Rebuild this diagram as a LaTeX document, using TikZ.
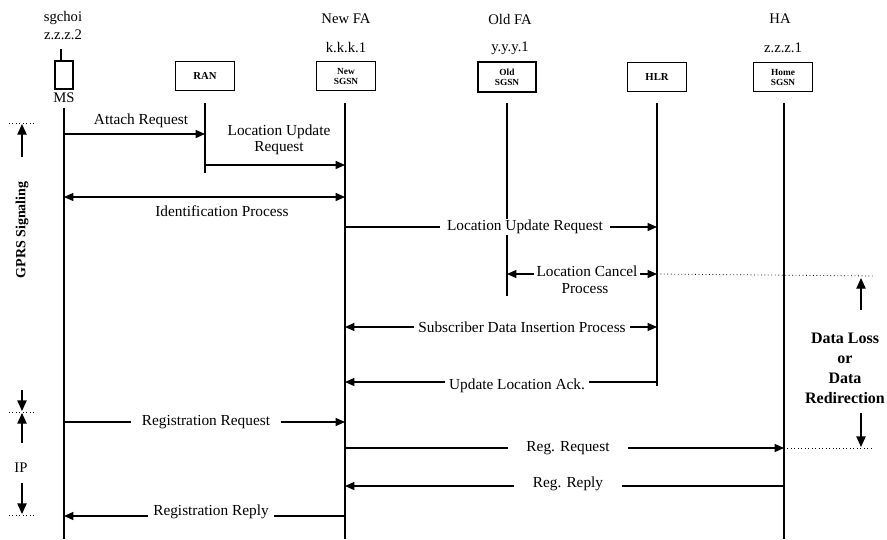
\documentclass[tikz,border=0pt]{standalone}
\usepackage{fontspec}
\setmainfont{Liberation Serif}
\usetikzlibrary{arrows.meta}
\begin{document}
\begin{tikzpicture}[x=0.75pt,y=-0.75pt,
  life/.style={line width=1.3pt},
  tip/.tip={Triangle[length=7pt,width=6pt]},
  msg/.style={line width=1pt,-tip},
  dmsg/.style={line width=1pt,tip-tip},
  ent/.style={draw,line width=0.6pt,minimum width=44pt,minimum height=22pt,font=\fontsize{7}{7.5}\selectfont\bfseries,align=center,inner sep=1pt},
  lbl/.style={font=\fontsize{11.5}{12}\selectfont,inner sep=1pt},
  gap/.style={lbl,fill=white,inner xsep=5pt},
  hdr/.style={font=\fontsize{11}{12}\selectfont},
  dots/.style={dotted,line width=0.6pt},
  side/.style={line width=1pt,-{Triangle[length=8pt,width=7pt]}},
  side2/.style={font=\fontsize{10.5}{12}\selectfont\bfseries}
]
\useasboundingbox (0,0) rectangle (887,539);

% headers
\node[hdr] (h1) at (63,18) {sgchoi};
\node[hdr] (h2) at (63,35) {z.z.z.2};
\node[hdr] (h3) at (346,19) {New FA};
\node[hdr] (h4) at (346,48) {k.k.k.1};
\node[hdr] (h5) at (510,19) {Old FA};
\node[hdr] (h6) at (510,48) {y.y.y.1};
\node[hdr] (h7) at (780,19) {HA};
\node[hdr] (h8) at (783,48) {z.z.z.1};

% entities
\node[draw,line width=1.6pt,minimum width=13pt,minimum height=21pt,inner sep=0pt] (msbox) at (64,75) {};
\draw[line width=0.8pt] ([xshift=-2.25pt]msbox.north) -- ++(0,-11);
\node[hdr] (ms) at (64,98) {MS};
\node[ent,font=\fontsize{8}{9}\selectfont\bfseries] (ran) at (205,76) {RAN};
\node[ent] (new) at (346,76) {New\\SGSN};
\node[ent,line width=1.6pt] (old) at (507,77) {Old\\SGSN};
\node[ent,font=\fontsize{8}{9}\selectfont\bfseries] (hlr) at (657,77) {HLR};
\node[ent] (home) at (783,77) {Home\\SGSN};

% lifelines
\coordinate (msB) at (64,539);
\coordinate (ranT) at (205,103); \coordinate (ranB) at (205,173);
\coordinate (newT) at (345,103); \coordinate (newB) at (345,539);
\coordinate (oldT) at (507,103); \coordinate (oldB) at (507,296);
\coordinate (hlrT) at (657,103); \coordinate (hlrB) at (657,386);
\coordinate (homeT) at (784,103); \coordinate (homeB) at (784,539);
\draw[life] (ms.south) -- (msB);
\draw[life] (ranT) -- (ranB);
\draw[life] (newT) -- (newB);
\draw[life] (oldT) -- (oldB);
\draw[life] (hlrT) -- (hlrB);
\draw[life] (homeT) -- (homeB);

% messages
\coordinate (m1a) at (64,134); \coordinate (m1b) at (205,134);
\draw[msg] (m1a) -- (m1b);
\node[lbl] (l1) at (141,121) {Attach Request};

\coordinate (m2a) at (205,165); \coordinate (m2b) at (345,165);
\draw[msg] (m2a) -- (m2b);
\node[lbl,align=center] (l2) at (279,140) {Location Update\\Request};

\coordinate (m3a) at (64,197); \coordinate (m3b) at (345,197);
\draw[dmsg] (m3a) -- (m3b);
\node[lbl] (l3) at (222,211) {Identification Process};

\coordinate (m4a) at (345,227); \coordinate (m4b) at (657,227);
\draw[msg] (m4a) -- (m4b);
\node[gap] (l4) at (525,227) {Location Update Request};

\coordinate (m5a) at (507,274); \coordinate (m5b) at (657,274);
\draw[dmsg] (m5a) -- (m5b);
\node[gap,inner xsep=2pt] (l5) at (587,271) {Location Cancel};
\node[lbl] (l5b) at (585,289) {Process};
\coordinate (d1) at (874,276);
\draw[dots] (m5b) -- (d1);

\coordinate (m6a) at (345,327); \coordinate (m6b) at (657,327);
\draw[dmsg] (m6a) -- (m6b);
\node[gap,inner xsep=3pt] (l6) at (522,327) {Subscriber Data Insertion Process};

\coordinate (m7a) at (657,382); \coordinate (m7b) at (345,382);
\draw[msg] (m7a) -- (m7b);
\node[gap,inner xsep=3pt] (l7) at (517,386) {Update Location Ack.};

\coordinate (m8a) at (64,422); \coordinate (m8b) at (345,422);
\draw[msg] (m8a) -- (m8b);
\node[gap,inner xsep=8pt] (l8) at (206,422) {Registration Request};

\coordinate (m9a) at (345,448); \coordinate (m9b) at (784,448);
\draw[msg] (m9a) -- (m9b);
\node[gap,inner xsep=14pt] (l9) at (568,448) {Reg. Request};
\coordinate (d2) at (874,448);
\draw[dots] (m9b) -- (d2);

\coordinate (m10a) at (784,486); \coordinate (m10b) at (345,486);
\draw[msg] (m10a) -- (m10b);
\node[gap,inner xsep=14pt] (l10) at (568,484) {Reg. Reply};

\coordinate (m11a) at (345,516); \coordinate (m11b) at (64,516);
\draw[msg] (m11a) -- (m11b);
\node[gap,inner xsep=4pt] (l11) at (211,512) {Registration Reply};

% left annotations
\coordinate (s1a) at (9,123); \coordinate (s1b) at (34,123);
\draw[dots] (s1a) -- (s1b);
\coordinate (a1a) at (22,157); \coordinate (a1b) at (22,124);
\draw[side] (a1a) -- (a1b);
\node[side2,rotate=90] (gprs) at (22,230) {GPRS Signaling};

\coordinate (s2a) at (9,412); \coordinate (s2b) at (34,412);
\draw[dots] (s2a) -- (s2b);
\coordinate (a2a) at (22,390); \coordinate (a2b) at (22,411);
\draw[side] (a2a) -- (a2b);
\coordinate (a3a) at (22,443); \coordinate (a3b) at (22,413);
\draw[side] (a3a) -- (a3b);
\node[hdr] (ip) at (21,468) {IP};

\coordinate (s3a) at (9,515); \coordinate (s3b) at (34,515);
\draw[dots] (s3a) -- (s3b);
\coordinate (a4a) at (22,483); \coordinate (a4b) at (22,514);
\draw[side] (a4a) -- (a4b);

% right annotations
\coordinate (a5a) at (861,310); \coordinate (a5b) at (861,278);
\draw[side] (a5a) -- (a5b);
\coordinate (a6a) at (861,413); \coordinate (a6b) at (861,447);
\draw[side] (a6a) -- (a6b);
\node[font=\fontsize{12}{15}\selectfont\bfseries,align=center] (dl) at (845,368) {Data Loss\\or\\Data\\Redirection};
\end{tikzpicture}
\end{document}
